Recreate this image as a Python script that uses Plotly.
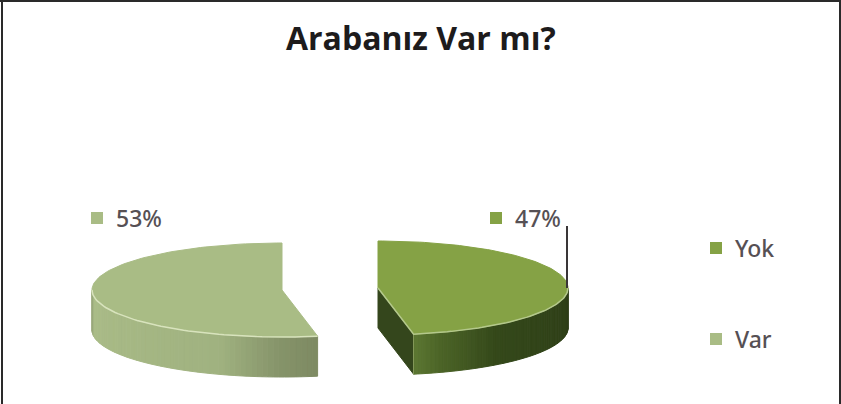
import math
import plotly.graph_objects as go

# Data
categories = ["Yok", "Var"]
shares = [47, 53]
percent_labels = ["47%", "53%"]
title_text = "Arabanız Var mı?"

# Styles and geometry (pixel frame of the 841x404 page)
W, H = 841, 404
top_colors = {"Yok": "#85a245", "Var": "#a9bc85"}
rim_colors = {"Yok": "#b4c88c", "Var": "#d8e3bd"}
wall_stops = {
    "Yok": [(0.0, (92, 120, 50)), (0.12, (74, 98, 38)), (0.35, (52, 72, 26)), (1.0, (46, 62, 24))],
    "Var": [(0.0, (125, 138, 98)), (0.12, (134, 148, 106)), (0.3, (160, 178, 128)), (0.92, (170, 188, 136)), (1.0, (150, 166, 120))],
}
centers = {"Yok": (378, 288), "Var": (282, 290)}
direction = {"Yok": 1, "Var": -1}
RX, RY, DEPTH = 190, 47, 40


def point(name, frac):
    """Rim position for a cumulative share, measured from 12 o'clock."""
    cx, cy = centers[name]
    a = 2 * math.pi * frac
    return cx + direction[name] * RX * math.sin(a), cy - RY * math.cos(a)


def lerp(stops, t):
    for (t0, c0), (t1, c1) in zip(stops, stops[1:]):
        if t <= t1:
            k = (t - t0) / (t1 - t0)
            return "rgb(%d,%d,%d)" % tuple(round(a + (b - a) * k) for a, b in zip(c0, c1))
    return "rgb(%d,%d,%d)" % stops[-1][1]


fig = go.Figure()


def poly(xs, ys, color, line=None, width=1):
    fig.add_trace(go.Scatter(x=xs, y=ys, mode="lines", fill="toself", fillcolor=color,
                             line=dict(color=line or color, width=width), hoverinfo="skip",
                             showlegend=False))


for name, share in zip(categories, shares):
    frac = share / 100
    cx, cy = centers[name]
    # outer wall: visible from the widest rim point (quarter turn) to the slice's end
    n = 60
    fracs = [0.25 + (frac - 0.25) * i / n for i in range(n + 1)]
    pts = [point(name, f) for f in fracs]
    for i in range(n):
        (x0, y0), (x1, y1) = pts[n - i], pts[n - i - 1]
        poly([x0, x1, x1, x0, x0], [y0, y1, y1 + DEPTH, y0 + DEPTH, y0],
             lerp(wall_stops[name], (i + 0.5) / n))
    ex, ey = point(name, frac)
    if name == "Yok":
        # cut face turned toward the viewer
        poly([cx, ex, ex, cx, cx], [cy, ey, ey + DEPTH, cy + DEPTH, cy], "#34461c")
        fig.add_trace(go.Scatter(x=[ex, ex], y=[ey, ey + DEPTH], mode="lines",
                                 line=dict(color="#8ba05f", width=1), hoverinfo="skip",
                                 showlegend=False))
    # top surface
    arc = [point(name, frac * i / 120) for i in range(121)]
    xs = [cx] + [p[0] for p in arc] + [cx]
    ys = [cy] + [p[1] for p in arc] + [cy]
    poly(xs, ys, top_colors[name])
    # bright rim along the near edge
    rim = [point(name, 0.25 + (frac - 0.25) * i / 60) for i in range(61)]
    rim_x = [p[0] for p in rim]
    rim_y = [p[1] for p in rim]
    if name == "Yok":
        rim_x += [cx]
        rim_y += [cy]
    fig.add_trace(go.Scatter(x=rim_x, y=rim_y, mode="lines",
                             line=dict(color=rim_colors[name], width=1.5), hoverinfo="skip",
                             showlegend=False))

# leader line for the 47% label
lx, ly = point("Yok", 0.25)
fig.add_trace(go.Scatter(x=[lx - 1, lx - 1], y=[226, ly], mode="lines",
                         line=dict(color="#3a3638", width=2), hoverinfo="skip", showlegend=False))

# data labels and legend, keys as square markers
label_pos = {"Var": (97, 218), "Yok": (496, 218)}
legend_pos = {"Yok": (716, 248), "Var": (716, 339)}
label_font = dict(family="Noto Sans", size=23, color="#565054", weight=500)
for name, text in zip(categories, percent_labels):
    x, y = label_pos[name]
    fig.add_trace(go.Scatter(x=[x], y=[y], mode="markers",
                             marker=dict(symbol="square", size=12, color=top_colors[name]),
                             hoverinfo="skip", showlegend=False))
    fig.add_annotation(x=x + 17, y=y, text=text, showarrow=False, xanchor="left", yanchor="middle",
                       font=label_font)
    x, y = legend_pos[name]
    fig.add_trace(go.Scatter(x=[x], y=[y], mode="markers",
                             marker=dict(symbol="square", size=12, color=top_colors[name]),
                             hoverinfo="skip", showlegend=False))
    fig.add_annotation(x=x + 17, y=y, text=name, showarrow=False, xanchor="left",
                       yanchor="middle", font=label_font)

fig.add_annotation(x=421, y=37, text="<b>%s</b>" % title_text, showarrow=False,
                   xanchor="center", yanchor="middle",
                   font=dict(family="Open Sans", size=32, color="#1d1b1c"))

# picture frame: top, left and right
for x0, y0, x1, y1 in [(0, 1, W, 1), (2, 0, 2, H), (840, 0, 840, H)]:
    fig.add_shape(type="line", x0=x0, y0=y0, x1=x1, y1=y1, line=dict(color="#2a2a2a", width=2))

fig.update_layout(
    width=W, height=H, margin=dict(l=0, r=0, t=0, b=0),
    paper_bgcolor="white", plot_bgcolor="white", showlegend=False,
    xaxis=dict(range=[0, W], visible=False, fixedrange=True),
    yaxis=dict(range=[H, 0], visible=False, fixedrange=True),
)
fig.write_html("out.html", config={"displayModeBar": False},
               post_script="document.body.style.margin='0';document.body.style.overflow='hidden';")
